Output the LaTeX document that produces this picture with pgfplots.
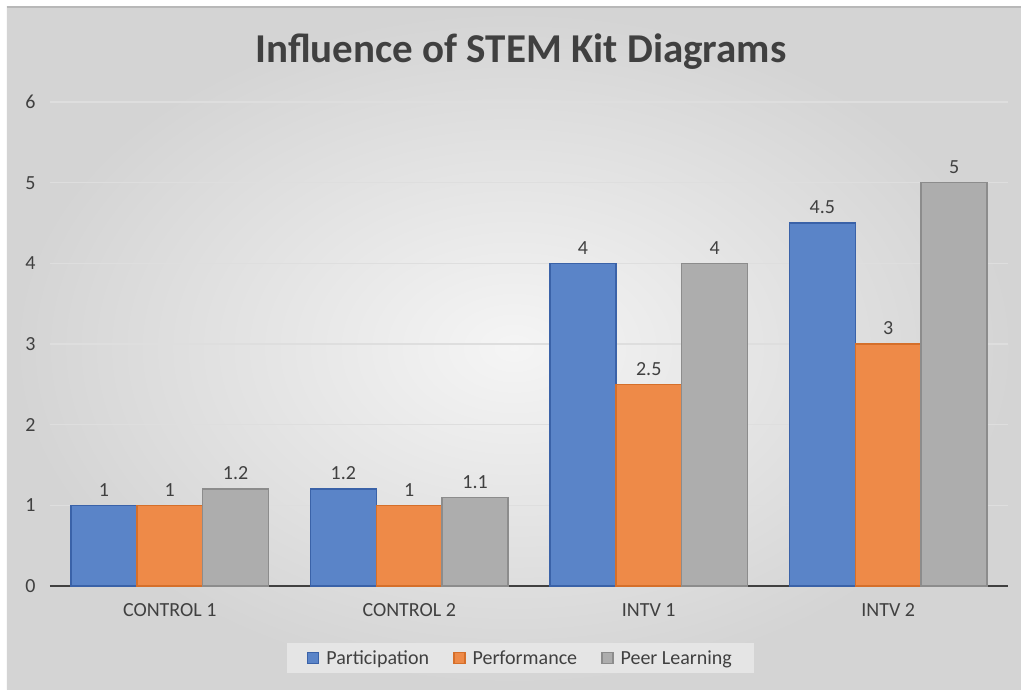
\documentclass[border=0pt]{standalone}
\usepackage{fontspec}
\setmainfont{Carlito}
\usepackage{pgfplots}
\pgfplotsset{compat=1.18}
\definecolor{cblue}{HTML}{5A84C8}
\definecolor{cblueD}{HTML}{3A62A8}
\definecolor{corange}{HTML}{EE8A48}
\definecolor{corangeD}{HTML}{D56F2A}
\definecolor{cgray}{HTML}{ADADAD}
\definecolor{cgrayD}{HTML}{8C8C8C}
\definecolor{ctext}{HTML}{404040}
\begin{document}
\begin{tikzpicture}[x=1pt,y=1pt]
\useasboundingbox (-50,-103) rectangle (971,586);
\fill[white] (-50,-103) rectangle (971,586);
\shade[inner color=black!4, outer color=black!17] (-43,-103) rectangle (971,579);
\draw[black!28, line width=2pt] (-43,579) -- (971,579);
\node[font=\fontsize{41}{49}\selectfont\bfseries, text=ctext] at (471,534) {Influence of STEM Kit Diagrams};
\begin{axis}[
  scale only axis, width=958pt, height=484pt,
  /pgf/number format/assume math mode=true,
  xmin=-0.5, xmax=3.5, ymin=0, ymax=6,
  ytick={0,1,2,3,4,5,6},
  xtick={0,1,2,3},
  xticklabels={CONTROL 1,CONTROL 2,INTV 1,INTV 2},
  major tick length=0pt,
  axis line style={draw=none},
  ymajorgrids,
  grid style={draw=black!13, line width=1.2pt},
  extra y ticks={0}, extra y tick labels={},
  extra y tick style={grid style={draw=black!75, line width=2.2pt}},
  tick label style={font=\fontsize{20}{24}\selectfont, text=ctext},
  yticklabel style={xshift=-11pt},
  xticklabel style={yshift=-14pt},
  ybar, bar width=0.275,
  nodes near coords,
  every node near coord/.append style={font=\fontsize{20}{24}\selectfont, text=ctext, yshift=5pt},
  legend style={at={(0.491,-0.149)}, anchor=center, legend columns=3, fill=black!10, draw=none,
    font=\fontsize{20}{24}\selectfont, text=ctext, inner xsep=20pt, inner ysep=5pt,
    /tikz/every odd column/.append style={column sep=5pt},
    /tikz/every even column/.append style={column sep=22pt}},
  legend cell align=left,
  legend image code/.code={\draw[#1, line width=1.5pt] (0pt,-5.5pt) rectangle (11pt,5.5pt);},
]
\addplot[fill=cblue, draw=cblueD, line width=1.5pt, bar shift=-0.275] coordinates {(0,1) (1,1.2) (2,4) (3,4.5)};
\addplot[fill=corange, draw=corangeD, line width=1.5pt, bar shift=0] coordinates {(0,1) (1,1) (2,2.5) (3,3)};
\addplot[fill=cgray, draw=cgrayD, line width=1.5pt, bar shift=0.275] coordinates {(0,1.2) (1,1.1) (2,4) (3,5)};
\legend{Participation,Performance,Peer Learning}
\end{axis}
\end{tikzpicture}
\end{document}
